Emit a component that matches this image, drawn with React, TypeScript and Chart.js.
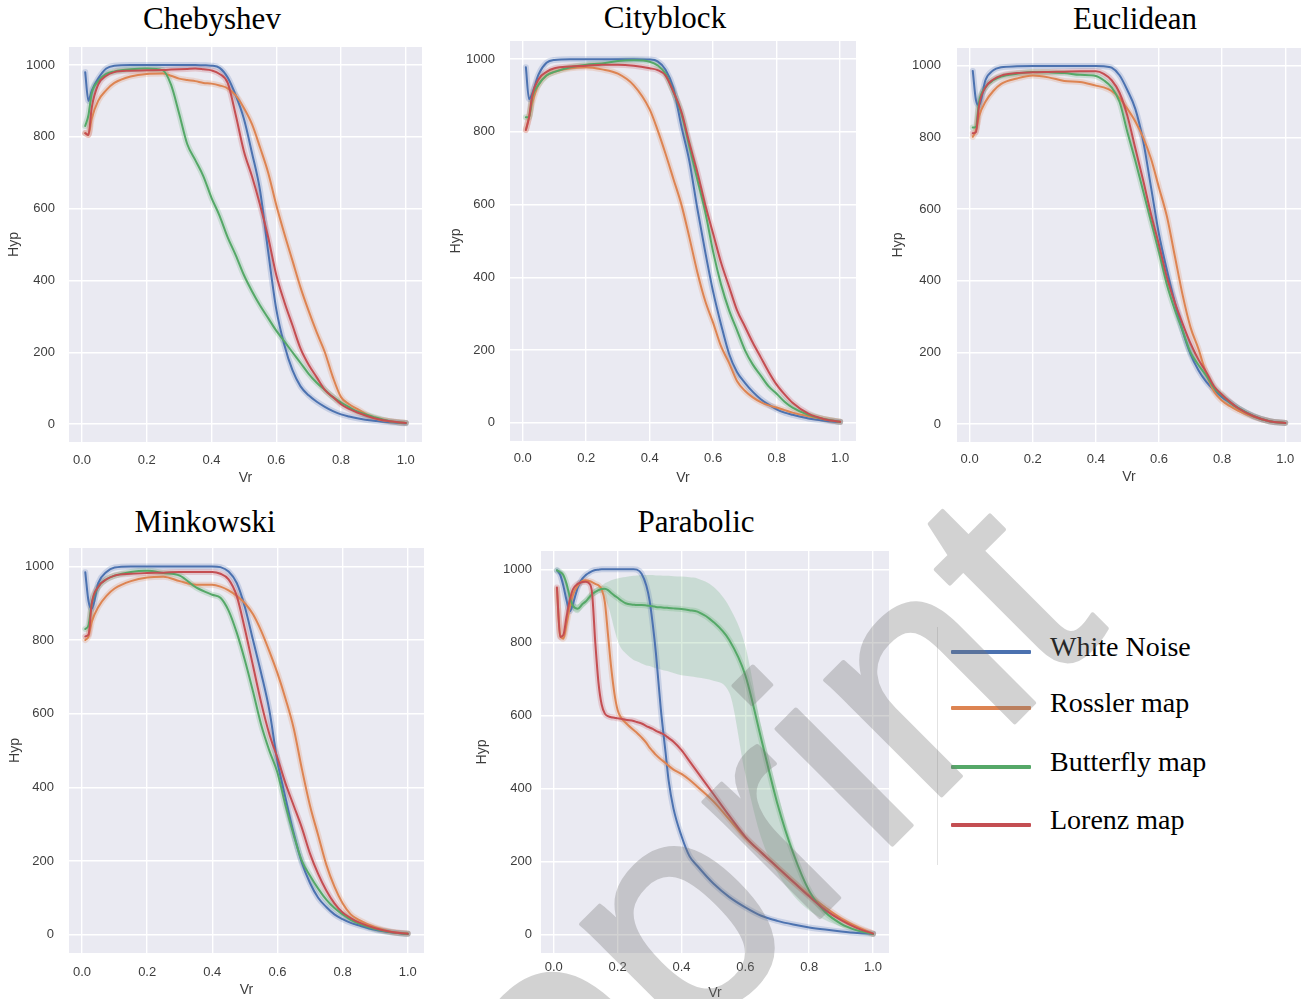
import React, { useEffect, useRef } from "react";
import { Chart, registerables } from "chart.js";

Chart.register(...registerables);

// ---------------- data ----------------
const SERIES_NAMES = ["White Noise", "Rossler map", "Butterfly map", "Lorenz map"];
const X_TICKS = [0, 0.2, 0.4, 0.6, 0.8, 1.0];
const Y_TICKS = [0, 200, 400, 600, 800, 1000];

const CHEB_X = [0.01, 0.02, 0.03, 0.05, 0.075, 0.1, 0.15, 0.2, 0.25, 0.275, 0.3, 0.325, 0.35, 0.375, 0.4, 0.425, 0.45, 0.475, 0.5, 0.525, 0.55, 0.575, 0.6, 0.625, 0.65, 0.675, 0.7, 0.725, 0.75, 0.775, 0.8, 0.825, 0.85, 0.9, 0.95, 1.0];
const CHEB_WHITE = [980, 900, 928, 962, 990, 998, 1000, 1000, 1000, 1000, 1000, 1000, 1000, 999, 998, 992, 965, 915, 850, 755, 650, 480, 320, 220, 150, 105, 80, 62, 48, 36, 27, 21, 16, 9, 5, 2];
const CHEB_ROSSLER = [810, 805, 850, 900, 930, 950, 968, 975, 976, 970, 962, 958, 955, 950, 948, 943, 935, 915, 880, 835, 770, 700, 610, 530, 455, 380, 315, 255, 200, 130, 75, 55, 42, 17, 8, 3];
const CHEB_BUTTERFLY = [830, 860, 920, 955, 975, 982, 988, 990, 985, 945, 865, 780, 735, 690, 630, 580, 520, 470, 415, 370, 330, 295, 260, 230, 200, 170, 140, 115, 95, 75, 60, 47, 35, 20, 8, 3];
const CHEB_LORENZ = [810, 805, 880, 945, 970, 980, 984, 985, 986, 987, 988, 989, 990, 988, 985, 975, 950, 860, 760, 690, 610, 520, 415, 340, 275, 210, 165, 130, 95, 75, 55, 42, 32, 17, 8, 3];

const STD_X = [0.01, 0.02, 0.03, 0.05, 0.075, 0.1, 0.15, 0.2, 0.25, 0.3, 0.35, 0.4, 0.425, 0.45, 0.475, 0.5, 0.525, 0.55, 0.575, 0.6, 0.625, 0.65, 0.675, 0.7, 0.725, 0.75, 0.775, 0.8, 0.825, 0.85, 0.9, 0.95, 1.0];

const CITY_WHITE = [978, 890, 905, 958, 990, 998, 1000, 1000, 1000, 1000, 1000, 999, 994, 971, 920, 815, 720, 590, 470, 360, 270, 190, 140, 110, 85, 65, 50, 37, 28, 22, 12, 6, 2];
const CITY_ROSSLER = [806, 840, 880, 930, 955, 965, 975, 978, 972, 960, 928, 862, 805, 740, 670, 600, 510, 415, 335, 275, 210, 165, 115, 88, 70, 57, 48, 42, 35, 28, 18, 10, 3];
const CITY_BUTTERFLY = [840, 840, 895, 930, 955, 965, 978, 985, 988, 995, 997, 993, 983, 960, 910, 850, 760, 670, 580, 470, 380, 310, 255, 200, 160, 130, 100, 80, 58, 42, 22, 10, 3];
const CITY_LORENZ = [805, 840, 900, 945, 965, 975, 980, 982, 985, 985, 982, 975, 970, 955, 910, 855, 770, 690, 600, 520, 440, 375, 310, 265, 220, 180, 140, 105, 78, 55, 25, 10, 3];

const EUCL_WHITE = [986, 905, 890, 960, 988, 996, 999, 1000, 1000, 1000, 1000, 1000, 999, 995, 974, 932, 880, 790, 660, 530, 430, 340, 260, 195, 150, 118, 95, 75, 60, 45, 22, 8, 3];
const EUCL_ROSSLER = [802, 820, 860, 900, 930, 950, 965, 973, 968, 958, 955, 945, 940, 930, 910, 880, 845, 800, 740, 660, 580, 470, 360, 270, 210, 140, 90, 65, 50, 38, 20, 8, 3];
const EUCL_BUTTERFLY = [828, 830, 900, 940, 960, 970, 978, 983, 982, 980, 975, 972, 960, 940, 900, 815, 735, 650, 565, 480, 390, 320, 260, 200, 165, 135, 100, 80, 60, 45, 22, 8, 3];
const EUCL_LORENZ = [812, 815, 890, 940, 962, 973, 980, 982, 983, 984, 985, 985, 978, 960, 925, 860, 770, 680, 585, 500, 410, 340, 280, 225, 180, 145, 105, 82, 62, 45, 22, 8, 3];

const MINK_WHITE = [984, 905, 885, 955, 985, 997, 1000, 1000, 1000, 1000, 1000, 1000, 998, 986, 955, 890, 800, 710, 610, 470, 370, 275, 195, 140, 100, 75, 55, 42, 32, 25, 13, 6, 2];
const MINK_ROSSLER = [800, 810, 850, 890, 920, 940, 960, 970, 972, 960, 950, 950, 945, 935, 920, 900, 870, 825, 770, 710, 640, 560, 450, 350, 270, 190, 130, 85, 55, 40, 20, 8, 3];
const MINK_BUTTERFLY = [830, 840, 900, 945, 965, 975, 985, 988, 982, 975, 943, 923, 915, 880, 820, 745, 660, 570, 500, 440, 350, 270, 200, 160, 125, 95, 72, 55, 40, 30, 15, 6, 2];
const MINK_LORENZ = [810, 815, 900, 945, 965, 975, 980, 982, 983, 985, 985, 985, 980, 965, 920, 830, 730, 630, 545, 480, 410, 350, 290, 220, 165, 120, 85, 60, 45, 33, 17, 7, 2];

const PARA_X = [0.01, 0.02, 0.03, 0.04, 0.05, 0.06, 0.075, 0.09, 0.1, 0.11, 0.12, 0.13, 0.14, 0.15, 0.16, 0.17, 0.18, 0.19, 0.2, 0.21, 0.225, 0.25, 0.26, 0.275, 0.29, 0.3, 0.31, 0.32, 0.335, 0.35, 0.36, 0.375, 0.4, 0.425, 0.45, 0.5, 0.55, 0.6, 0.65, 0.7, 0.75, 0.8, 0.85, 0.9, 0.95, 1.0];
const PARA_WHITE = [997, 985, 955, 915, 885, 905, 950, 975, 984, 990, 995, 998, 999, 1000, 1000, 1000, 1000, 1000, 1000, 1000, 1000, 1000, 999, 988, 955, 915, 850, 770, 620, 500, 420, 345, 270, 215, 188, 140, 103, 75, 52, 38, 28, 20, 14, 9, 5, 3];
const PARA_ROSSLER = [945, 820, 810, 850, 895, 930, 955, 968, 970, 968, 965, 960, 956, 945, 910, 820, 730, 660, 615, 595, 580, 560, 553, 540, 525, 512, 502, 492, 480, 470, 462, 452, 440, 424, 405, 365, 315, 265, 225, 185, 145, 108, 75, 45, 22, 3];
const PARA_BUTTERFLY = [997, 992, 984, 960, 925, 900, 892, 905, 912, 922, 932, 938, 943, 946, 947, 943, 935, 928, 922, 915, 907, 903, 902, 902, 901, 900, 899, 897, 896, 895, 894, 893, 891, 888, 884, 856, 806, 710, 535, 360, 223, 120, 62, 30, 12, 2];
const PARA_LORENZ = [950, 815, 820, 870, 915, 945, 960, 965, 966, 962, 935, 800, 690, 630, 605, 598, 595, 594, 592, 591, 588, 585, 582, 578, 571, 567, 563, 558, 552, 545, 538, 528, 505, 475, 445, 385, 325, 268, 225, 185, 145, 105, 68, 40, 18, 3];
const PARA_BUTTERFLY_HI = [1000, 998, 992, 970, 938, 912, 904, 916, 922, 932, 942, 948, 952, 955, 962, 966, 970, 973, 975, 977, 979, 982, 983, 984, 984, 984, 984, 983, 983, 982, 982, 981, 980, 978, 975, 952, 897, 790, 570, 395, 235, 126, 65, 33, 14, 3];
const PARA_BUTTERFLY_LO = [994, 986, 976, 950, 912, 888, 880, 894, 902, 912, 922, 928, 934, 935, 920, 900, 870, 835, 805, 785, 770, 752, 748, 742, 737, 735, 732, 729, 726, 722, 720, 716, 710, 707, 704, 695, 662, 440, 265, 170, 108, 66, 40, 22, 10, 1];

// ---------------- styles ----------------
const COLORS = ["#4C72B0", "#DD8452", "#55A868", "#C44E52"];
const HALO = ["rgba(76,114,176,0.22)", "rgba(221,132,82,0.22)", "rgba(85,168,104,0.22)", "rgba(196,78,82,0.22)"];
const SANS = "'Liberation Sans', Arial, sans-serif";
const SERIF = "'Liberation Serif', 'Times New Roman', serif";
const TICK_COLOR = "#3d3d3d";
const Y_AXIS_W = 70;
const X_AXIS_H = 50;

type Panel = {
  title: string;
  titleCx: number;
  titleTop: number;
  x: number[];
  series: number[][];
  band?: { hi: number[]; lo: number[] };
  rect: { l: number; t: number; r: number; b: number };
  yTickPad: number;
  xTickPad: number;
  hypGap: number;
  vrGap: number;
};

const PANELS: Panel[] = [
  { title: "Chebyshev", titleCx: 212, titleTop: 3, x: CHEB_X, series: [CHEB_WHITE, CHEB_ROSSLER, CHEB_BUTTERFLY, CHEB_LORENZ], rect: { l: 69, t: 47, r: 422, b: 442 }, yTickPad: 14, xTickPad: 11, hypGap: 55, vrGap: 36 },
  { title: "Cityblock", titleCx: 665, titleTop: 2, x: STD_X, series: [CITY_WHITE, CITY_ROSSLER, CITY_BUTTERFLY, CITY_LORENZ], rect: { l: 510, t: 41, r: 856, b: 441 }, yTickPad: 15, xTickPad: 10, hypGap: 54, vrGap: 37 },
  { title: "Euclidean", titleCx: 1135, titleTop: 3, x: STD_X, series: [EUCL_WHITE, EUCL_ROSSLER, EUCL_BUTTERFLY, EUCL_LORENZ], rect: { l: 957, t: 48, r: 1301, b: 442 }, yTickPad: 16, xTickPad: 10, hypGap: 59, vrGap: 35 },
  { title: "Minkowski", titleCx: 205, titleTop: 506, x: STD_X, series: [MINK_WHITE, MINK_ROSSLER, MINK_BUTTERFLY, MINK_LORENZ], rect: { l: 69, t: 548, r: 424, b: 953 }, yTickPad: 15, xTickPad: 12, hypGap: 54, vrGap: 37 },
  { title: "Parabolic", titleCx: 696, titleTop: 506, x: PARA_X, series: [PARA_WHITE, PARA_ROSSLER, PARA_BUTTERFLY, PARA_LORENZ], band: { hi: PARA_BUTTERFLY_HI, lo: PARA_BUTTERFLY_LO }, rect: { l: 541, t: 551, r: 889, b: 953 }, yTickPad: 9, xTickPad: 7, hypGap: 59, vrGap: 40 },
];

const LEGEND_Y = [652, 708, 767, 825];

const bgPlugin = {
  id: "plotBg",
  beforeDraw(chart: any) {
    const { ctx, chartArea } = chart;
    if (!chartArea) return;
    ctx.save();
    ctx.fillStyle = "#EAEAF2";
    ctx.fillRect(chartArea.left, chartArea.top, chartArea.right - chartArea.left, chartArea.bottom - chartArea.top);
    ctx.restore();
  },
};

const pts = (xs: number[], ys: number[]) => xs.map((x, i) => ({ x, y: ys[i] }));

function PanelChart({ p }: { p: Panel }) {
  const ref = useRef<HTMLCanvasElement>(null);
  const left = p.rect.l - Y_AXIS_W;
  const top = p.rect.t - 6;
  const width = p.rect.r - p.rect.l + Y_AXIS_W + 6;
  const height = p.rect.b - p.rect.t + 6 + X_AXIS_H;

  useEffect(() => {
    if (!ref.current) return;
    const datasets: any[] = [];
    if (p.band) {
      datasets.push({ data: pts(p.x, p.band.hi), fill: "+1", backgroundColor: "rgba(85,168,104,0.22)", borderWidth: 0, borderColor: "rgba(0,0,0,0)", pointRadius: 0, order: 30 });
      datasets.push({ data: pts(p.x, p.band.lo), fill: false, borderWidth: 0, borderColor: "rgba(0,0,0,0)", pointRadius: 0, order: 30 });
    }
    p.series.forEach((ys, i) => {
      datasets.push({ label: SERIES_NAMES[i] + " band", data: pts(p.x, ys), borderColor: HALO[i], borderWidth: 6, pointRadius: 0, fill: false, order: 20 });
    });
    p.series.forEach((ys, i) => {
      datasets.push({ label: SERIES_NAMES[i], data: pts(p.x, ys), borderColor: COLORS[i], borderWidth: 2, pointRadius: 0, fill: false, order: 10 - i });
    });

    const tickFont = { family: SANS, size: 13 };
    const titleFont = { family: SANS, size: 14 };
    const chart = new Chart(ref.current, {
      type: "line",
      data: { datasets },
      plugins: [bgPlugin],
      options: {
        responsive: false,
        animation: false,
        events: [],
        layout: { padding: { left: 0, top: 6, right: 6, bottom: 0 } },
        elements: { point: { radius: 0 }, line: { cubicInterpolationMode: "monotone", borderCapStyle: "round", borderJoinStyle: "round" } },
        plugins: { legend: { display: false }, tooltip: { enabled: false }, title: { display: false } },
        scales: {
          x: {
            type: "linear",
            min: -0.04,
            max: 1.05,
            afterBuildTicks: (s: any) => { s.ticks = X_TICKS.map((v) => ({ value: v })); },
            afterFit: (s: any) => { s.height = X_AXIS_H; s.paddingLeft = 0; s.paddingRight = 0; },
            grid: { color: "#ffffff", lineWidth: 1.4, drawTicks: false },
            border: { display: false },
            ticks: { padding: p.xTickPad, color: TICK_COLOR, font: tickFont, autoSkip: false, maxRotation: 0, callback: (v: any) => Number(v).toFixed(1) },
            title: { display: true, text: "Vr", color: TICK_COLOR, font: titleFont, padding: { top: 0, bottom: X_AXIS_H - p.vrGap - 8.4 } },
          },
          y: {
            type: "linear",
            min: -50,
            max: 1050,
            afterBuildTicks: (s: any) => { s.ticks = Y_TICKS.map((v) => ({ value: v })); },
            afterFit: (s: any) => { s.width = Y_AXIS_W; s.paddingTop = 0; s.paddingBottom = 0; },
            grid: { color: "#ffffff", lineWidth: 1.4, drawTicks: false },
            border: { display: false },
            ticks: { padding: p.yTickPad, color: TICK_COLOR, font: tickFont, autoSkip: false, callback: (v: any) => String(v) },
            title: { display: true, text: "Hyp", color: TICK_COLOR, font: titleFont, padding: { top: Y_AXIS_W - p.hypGap - 8.4, bottom: 0 } },
          },
        },
      } as any,
    });
    return () => chart.destroy();
  }, []);

  return (
    <>
      <div style={{ position: "absolute", left: p.titleCx, top: p.titleTop, transform: "translateX(-50%)", fontFamily: SERIF, fontSize: 31, lineHeight: "31px", color: "#000", whiteSpace: "nowrap" }}>{p.title}</div>
      <canvas ref={ref} width={width} height={height} style={{ position: "absolute", left, top, width, height }} />
    </>
  );
}

export default function App() {
  return (
    <div style={{ position: "absolute", left: 0, top: 0, width: 1309, height: 999, overflow: "hidden", background: "#ffffff" }}>
      {PANELS.map((p) => (
        <PanelChart key={p.title} p={p} />
      ))}
      <div style={{ position: "absolute", left: 937, top: 627, width: 1, height: 238, background: "#e2e2e2" }} />
      {SERIES_NAMES.map((name, i) => (
        <React.Fragment key={name}>
          <div style={{ position: "absolute", left: 951, top: LEGEND_Y[i] - 2, width: 80, height: 4, background: COLORS[i], borderRadius: 1 }} />
          <div style={{ position: "absolute", left: 1050, top: LEGEND_Y[i] - 19, fontFamily: SERIF, fontSize: 28, lineHeight: "28px", color: "#000", whiteSpace: "nowrap" }}>{name}</div>
        </React.Fragment>
      ))}
      <svg width={1309} height={999} style={{ position: "absolute", left: 0, top: 0, pointerEvents: "none" }}>
        <g opacity={0.33}>
          <text transform="translate(366,1371) rotate(-45)" fontFamily="'Liberation Sans', Arial, sans-serif" fontSize={310} fill="rgb(120,120,120)" stroke="rgb(120,120,120)" strokeWidth={4} strokeLinejoin="round">
            preprint
          </text>
        </g>
      </svg>
    </div>
  );
}
